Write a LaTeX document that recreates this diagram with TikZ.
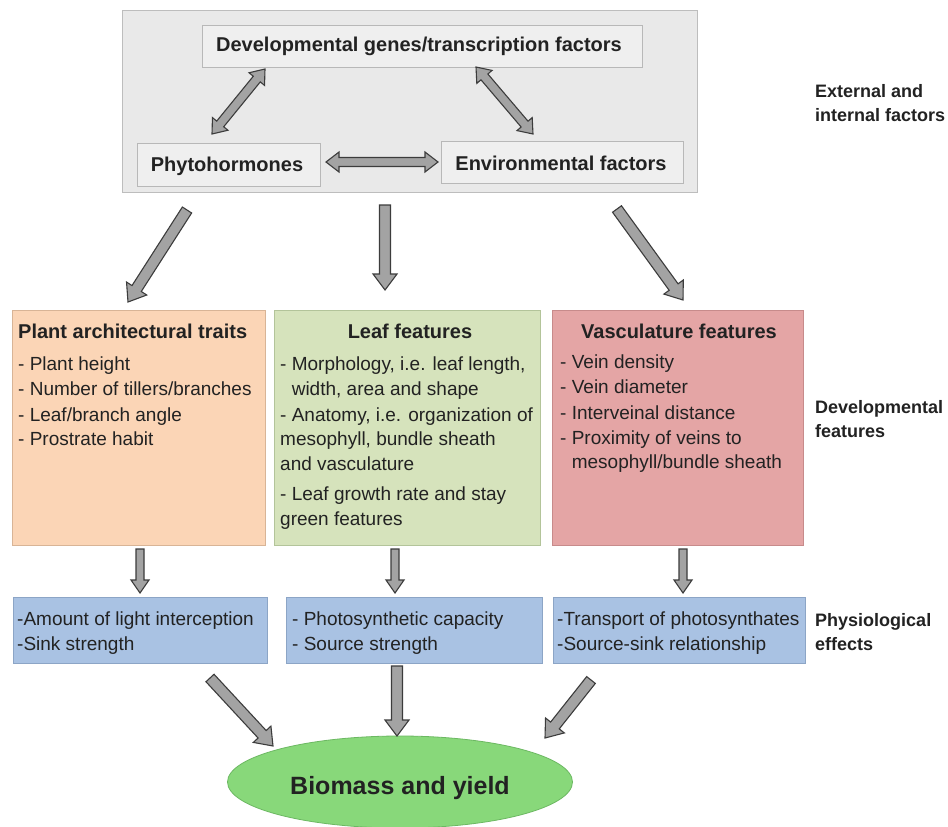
\documentclass[tikz,border=0pt]{standalone}
\usepackage{fontspec}
\setmainfont{Liberation Sans}
\usetikzlibrary{calc,shapes.geometric}
\definecolor{txt}{HTML}{222222}
\definecolor{outerfill}{HTML}{E9E9E9}
\definecolor{outerdraw}{HTML}{BDBDBD}
\definecolor{innerfill}{HTML}{EFEFEF}
\definecolor{innerdraw}{HTML}{B8B8B8}
\definecolor{orangefill}{HTML}{FBD5B6}
\definecolor{orangedraw}{HTML}{D8B496}
\definecolor{greenfill}{HTML}{D6E3BC}
\definecolor{greendraw}{HTML}{B3C49A}
\definecolor{redfill}{HTML}{E4A5A5}
\definecolor{reddraw}{HTML}{C78B8B}
\definecolor{bluefill}{HTML}{A9C2E3}
\definecolor{bluedraw}{HTML}{8CA5C6}
\definecolor{ellfill}{HTML}{88D87A}
\definecolor{elldraw}{HTML}{6CB862}
\definecolor{arrfill}{HTML}{A3A3A3}
\definecolor{arrdraw}{HTML}{3C3C3C}
% single block arrow: from, to, half shaft, half head, head length
\newcommand\blockarrow[5]{%
  \coordinate (bah) at ($(#2)!#5!(#1)$);
  \filldraw[barrow] ($(#1)!#3!90:(#2)$) -- ($(bah)!#3!90:(#2)$) -- ($(bah)!#4!90:(#2)$)
    -- (#2) -- ($(bah)!#4!-90:(#2)$) -- ($(bah)!#3!-90:(#2)$) -- ($(#1)!#3!-90:(#2)$) -- cycle;}
% double block arrow
\newcommand\dblarrow[5]{%
  \coordinate (dbh1) at ($(#1)!#5!(#2)$);
  \coordinate (dbh2) at ($(#2)!#5!(#1)$);
  \filldraw[barrow] (#1) -- ($(dbh1)!#4!90:(#2)$) -- ($(dbh1)!#3!90:(#2)$) -- ($(dbh2)!#3!90:(#2)$)
    -- ($(dbh2)!#4!90:(#2)$) -- (#2) -- ($(dbh2)!#4!-90:(#2)$) -- ($(dbh2)!#3!-90:(#2)$)
    -- ($(dbh1)!#3!-90:(#2)$) -- ($(dbh1)!#4!-90:(#2)$) -- cycle;}
\begin{document}
\begin{tikzpicture}[x=1pt,y=-1pt,
  barrow/.style={fill=arrfill,draw=arrdraw,line width=1.1pt,line join=miter},
  box/.style={rectangle,anchor=north west,line width=0.8pt,inner sep=0pt},
  bodytxt/.style={anchor=north west,inner sep=0pt,align=left,text=txt,
    font=\fontsize{19}{24.5}\selectfont},
  titletxt/.style={anchor=center,inner sep=0pt,text=txt,font=\fontsize{20}{24}\selectfont\bfseries},
  sidetxt/.style={anchor=north west,inner sep=0pt,align=left,text=txt,
    font=\fontsize{18}{24.5}\selectfont\bfseries}]
\useasboundingbox[fill=white] (0,0) rectangle (948,827);

% top block
\node[box,fill=outerfill,draw=outerdraw,minimum width=575pt,minimum height=182pt] (ext) at (122,10) {};
\node[box,fill=innerfill,draw=innerdraw,minimum width=440pt,minimum height=42pt] (genes) at (202,25) {};
\node[titletxt] (genest) at (419,46) {Developmental genes/transcription factors};
\node[box,fill=innerfill,draw=innerdraw,minimum width=183pt,minimum height=43pt] (phyto) at (137,143) {};
\node[titletxt] (phytot) at (227,166) {Phytohormones};
\node[box,fill=innerfill,draw=innerdraw,minimum width=242pt,minimum height=42pt] (env) at (441,141) {};
\node[titletxt] (envt) at (561,163) {Environmental factors};

\coordinate (d1a) at (265,69);
\coordinate (d1b) at (212,134);
\coordinate (d2a) at (476,67);
\coordinate (d2b) at (533,134);
\coordinate (d3a) at (326,162);
\coordinate (d3b) at (438,162);
\dblarrow{d1a}{d1b}{4.5pt}{10pt}{13pt}
\dblarrow{d2a}{d2b}{4.5pt}{10pt}{13pt}
\dblarrow{d3a}{d3b}{4.5pt}{10pt}{13pt}

\node[sidetxt] (extlab) at (815,84) {External and\\internal factors};

% down arrows from top block
\coordinate (a1a) at (187,210);
\coordinate (a1b) at (128,302);
\coordinate (a2a) at (385,205);
\coordinate (a2b) at (385,290);
\coordinate (a3a) at (617,209);
\coordinate (a3b) at (683,300);
\blockarrow{a1a}{a1b}{5.5pt}{12pt}{16pt}
\blockarrow{a2a}{a2b}{5.5pt}{12pt}{16pt}
\blockarrow{a3a}{a3b}{5.5pt}{12pt}{16pt}

% developmental feature boxes
\node[box,fill=orangefill,draw=orangedraw,minimum width=253pt,minimum height=235pt] (plant) at (12,310) {};
\node[titletxt,anchor=west] (plantt) at (18,331) {Plant architectural traits};
\node[bodytxt] (plantl) at (18,357) {- Plant height\\- Number of tillers/branches\\[1.5pt]- Leaf/branch angle\\- Prostrate habit};

\node[box,fill=greenfill,draw=greendraw,minimum width=266pt,minimum height=235pt] (leaf) at (274,310) {};
\node[titletxt] (leaft) at (410,331) {Leaf features};
\node[bodytxt] (leafl) at (280,357) {- Morphology, i.e. leaf length,\\\phantom{-} width, area and shape\\[1.5pt]- Anatomy, i.e. organization of\\mesophyll, bundle sheath\\and vasculature\\[6pt]- Leaf growth rate and stay\\green features};

\node[box,fill=redfill,draw=reddraw,minimum width=251pt,minimum height=235pt] (vasc) at (552,310) {};
\node[titletxt] (vasct) at (679,331) {Vasculature features};
\node[bodytxt] (vascl) at (560,355) {- Vein density\\- Vein diameter\\[2pt]- Interveinal distance\\- Proximity of veins to\\\phantom{-} mesophyll/bundle sheath};

\node[sidetxt] (devlab) at (815,400) {Developmental\\features};

% small arrows
\coordinate (s1a) at (140,549);
\coordinate (s1b) at (140,593);
\coordinate (s2a) at (395,549);
\coordinate (s2b) at (395,593);
\coordinate (s3a) at (683,549);
\coordinate (s3b) at (683,593);
\blockarrow{s1a}{s1b}{4pt}{9pt}{13pt}
\blockarrow{s2a}{s2b}{4pt}{9pt}{13pt}
\blockarrow{s3a}{s3b}{4pt}{9pt}{13pt}

% physiological boxes
\node[box,fill=bluefill,draw=bluedraw,minimum width=254pt,minimum height=66pt] (light) at (13,597) {};
\node[bodytxt] (lightl) at (17,612) {-Amount of light interception\\-Sink strength};
\node[box,fill=bluefill,draw=bluedraw,minimum width=256pt,minimum height=66pt] (photo) at (286,597) {};
\node[bodytxt] (photol) at (292,612) {- Photosynthetic capacity\\- Source strength};
\node[box,fill=bluefill,draw=bluedraw,minimum width=252pt,minimum height=66pt] (trans) at (553,597) {};
\node[bodytxt] (transl) at (557,612) {-Transport of photosynthates\\-Source-sink relationship};

\node[sidetxt] (phylab) at (815,613) {Physiological\\effects};

% ellipse
\node[ellipse,fill=ellfill,draw=elldraw,line width=0.8pt,minimum width=345pt,minimum height=92pt,inner sep=0pt] (yield) at (400,782) {};
\node[anchor=center,inner sep=0pt,text=txt,font=\fontsize{25}{29}\selectfont\bfseries] (yieldt) at (400,788) {Biomass and yield};

% arrows to ellipse
\coordinate (b1a) at (210,678);
\coordinate (b1b) at (273,746);
\coordinate (b2a) at (397,666);
\coordinate (b2b) at (397,736);
\coordinate (b3a) at (591,680);
\coordinate (b3b) at (545,738);
\blockarrow{b1a}{b1b}{5.5pt}{12pt}{16pt}
\blockarrow{b2a}{b2b}{5.5pt}{12pt}{16pt}
\blockarrow{b3a}{b3b}{5.5pt}{12pt}{16pt}
\end{tikzpicture}
\end{document}
